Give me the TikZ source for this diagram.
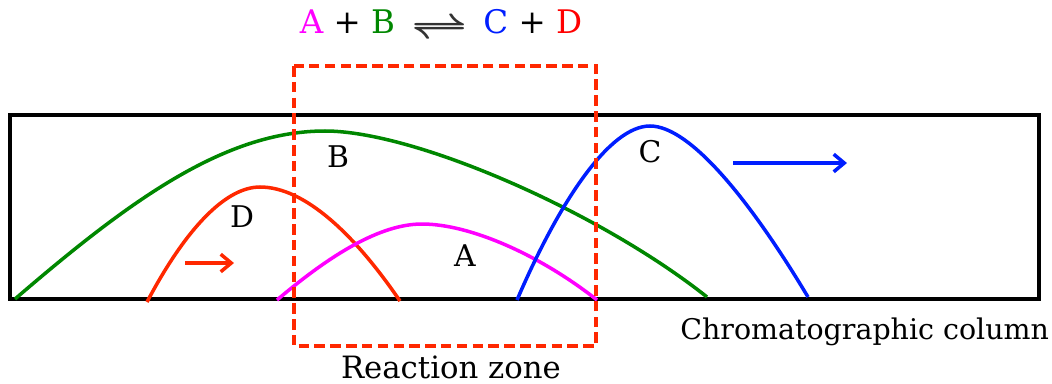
\documentclass[tikz,border=0pt]{standalone}
\usepackage{fontspec}
\setmainfont{DejaVu Serif}
\usepackage{tikz}
\usetikzlibrary{arrows.meta}
\usepackage{xcolor}
\definecolor{colorA}{RGB}{255, 0, 255}
\definecolor{colorB}{RGB}{0, 135, 0}
\definecolor{colorC}{RGB}{0, 30, 255}
\definecolor{colorD}{RGB}{255, 40, 0}
\definecolor{colorT}{RGB}{255, 0, 0}
\tikzset{
    peak/.style={line width=2pt},
    letter/.style={font=\fontsize{17}{17}\selectfont, inner sep=0pt},
    caption/.style={font=\fontsize{16.2}{18}\selectfont, inner sep=0pt},
    move/.style={line width=2pt, -{Straight Barb[length=6pt, width=10pt]}},
}

\begin{document}
\begin{tikzpicture}[x=0.02cm, y=-0.02cm]
        \useasboundingbox (0,0) rectangle (1052,383);
        \draw[line width=2pt] (10,115) rectangle (1039,299);
        \draw[peak, colorB] (15,299) .. controls (130,200) and (225,131) .. (325,131) .. controls (415,131) and (600,212) .. (707,297);
        \draw[peak, colorD] (147,302) .. controls (185,230) and (225,187) .. (260,187) .. controls (305,187) and (355,235) .. (400,301);
        \draw[peak, colorA] (277,300) .. controls (330,255) and (380,224) .. (422,224) .. controls (470,224) and (540,255) .. (597,300);
        \draw[peak, colorC] (517,300) .. controls (560,200) and (610,126) .. (650,126) .. controls (690,126) and (750,200) .. (808,297);
        \draw[line width=1.8pt, colorD, dashed, dash pattern=on 6pt off 3pt] (294,66) rectangle (596,346);
        \node (labelB) [letter] at (338,157) {B};
        \node (labelC) [letter] at (650,152) {C};
        \node (labelD) [letter] at (242,217) {D};
        \node (labelA) [letter] at (465,256) {A};
        \coordinate (dStart) at (185,263);
        \coordinate (dEnd) at (234,263);
        \coordinate (cStart) at (733,163);
        \coordinate (cEnd) at (847,163);
        \draw[move, colorD] (dStart) -- (dEnd);
        \draw[move, colorC] (cStart) -- (cEnd);
        \node (reaction) [letter, font=\fontsize{18.5}{19}\selectfont] at (441,24) {\textcolor{colorA}{A} + \textcolor{colorB}{B}\enspace\textcolor{black!80}{\raisebox{-0.3ex}{\scalebox{1.6}[1.3]{\boldmath$\rightleftharpoons$}}}\enspace\textcolor{colorC}{C} + \textcolor{colorT}{D}};
        \node (column) [caption, anchor=west] at (680,332) {Chromatographic column};
        \node (zone) [caption, font=\fontsize{17.5}{18}\selectfont] at (451,367) {Reaction zone};
    \end{tikzpicture}
\end{document}
